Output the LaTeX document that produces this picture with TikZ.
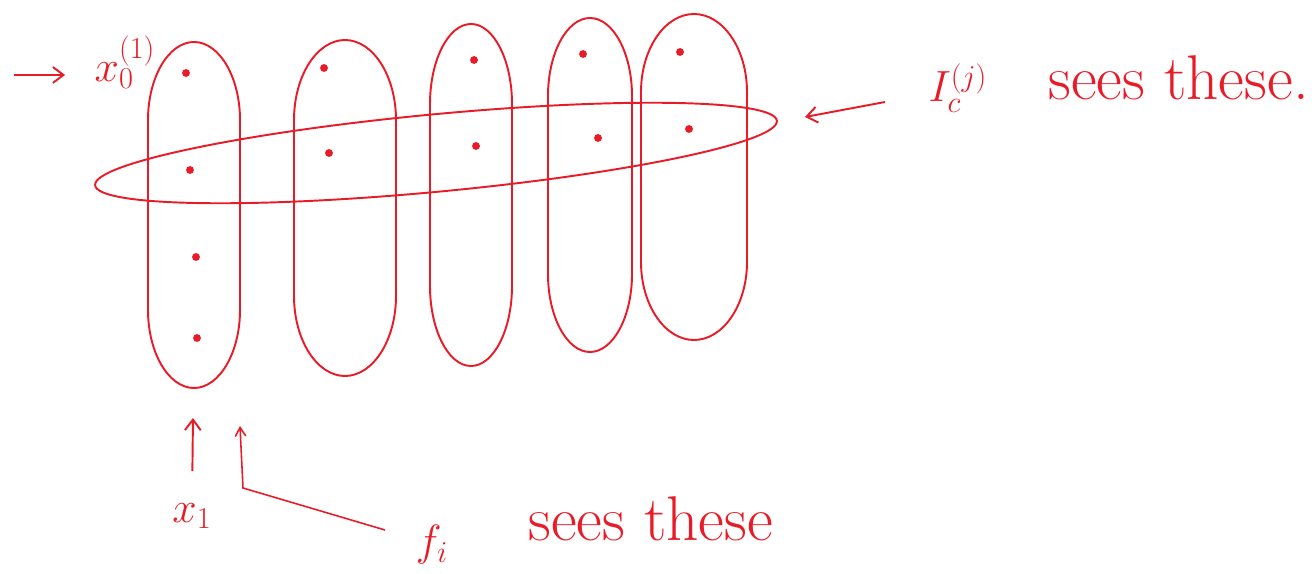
\documentclass[tikz,border=0pt]{standalone}
\usetikzlibrary{shapes.geometric,arrows.meta}
\definecolor{pen}{RGB}{232,28,40}
% #1 name, #2 cx, #3 cy, #4 half width, #5 half height, #6 cap depth
\newcommand\colblob[6]{%
  \coordinate (#1) at (#2,#3);
  \draw[pen] ({#2-#4},#3) -- ({#2-#4},{#3-#5+#6})
    .. controls ({#2-#4},{#3-#5+0.45*#6}) and ({#2-0.55*#4},{#3-#5}) .. (#2,{#3-#5})
    .. controls ({#2+0.55*#4},{#3-#5}) and ({#2+#4},{#3-#5+0.45*#6}) .. ({#2+#4},{#3-#5+#6})
    -- ({#2+#4},{#3+#5-#6})
    .. controls ({#2+#4},{#3+#5-0.45*#6}) and ({#2+0.55*#4},{#3+#5}) .. (#2,{#3+#5})
    .. controls ({#2-0.55*#4},{#3+#5}) and ({#2-#4},{#3+#5-0.45*#6}) .. ({#2-#4},{#3+#5-#6})
    -- cycle;}
\begin{document}
\begin{tikzpicture}[x=0.02cm,y=-0.02cm,
  pen/.style={draw=pen,line width=1.1pt},
  blob/.style={pen,ellipse,inner sep=0pt},
  pt/.style={circle,fill=pen,inner sep=0pt,minimum size=4.5pt},
  lab/.style={text=pen,font=\fontsize{26}{28}\selectfont,inner sep=1pt},
  word/.style={text=pen,font=\fontsize{36}{38}\selectfont,inner sep=0pt,anchor=base west},
  arr/.style={pen,-{Straight Barb[length=6pt,width=9pt]}},
  thinarr/.style={pen,line width=0.9pt,-{Straight Barb[length=5pt,width=6pt]}}]
\useasboundingbox (0,0) rectangle (1312,574);
% columns
\colblob{c1}{194}{215}{46}{173}{78}
\colblob{c2}{345}{208}{51}{168}{80}
\colblob{c3}{471}{195}{41}{171}{80}
\colblob{c4}{590}{185}{42}{167}{78}
\colblob{c5}{694}{177}{53}{163}{78}
% horizontal
\node[blob,minimum width=13.7cm,minimum height=1.55cm,rotate=5.4] (h) at (436,153) {};
% dots
\node[pt] (d11) at (186,73) {};
\node[pt] (d12) at (190,170) {};
\node[pt] (d13) at (196,257) {};
\node[pt] (d14) at (197,338) {};
\node[pt] (d21) at (324,68) {};
\node[pt] (d22) at (329,153) {};
\node[pt] (d31) at (474,60) {};
\node[pt] (d32) at (476,146) {};
\node[pt] (d41) at (583,54) {};
\node[pt] (d42) at (598,138) {};
\node[pt] (d51) at (680,52) {};
\node[pt] (d52) at (689,129) {};
% x_0 label
\node[lab] (x0) at (125,62) {$x_0^{(1)}$};
\coordinate (a0) at (14,75);
\draw[arr,shorten >=0.55cm] (a0) -- (a0 -| x0.west);
% I_c label
\node[lab] (ic) at (958,88) {$I_c^{(j)}$};
\node[word] (st1) at (1048,100) {sees these.};
\coordinate (hin) at (805,117);
\coordinate (ics) at (885,102);
\draw[arr] (ics) -- (hin);
% x_1 label
\node[lab] (x1) at (192,516) {$x_1$};
\coordinate (x1t) at (193,418);
\draw[arr,shorten <=0.6cm] (x1.north) -- (x1t);
% f_i label
\node[lab] (fi) at (432,545) {$f_i$};
\node[word] (st2) at (528,540) {sees these};
\coordinate (fs) at (385,530);
\coordinate (fk) at (243,488);
\coordinate (ft) at (240,426);
\draw[thinarr] (fs) -- (fk) -- (ft);
\end{tikzpicture}
\end{document}
